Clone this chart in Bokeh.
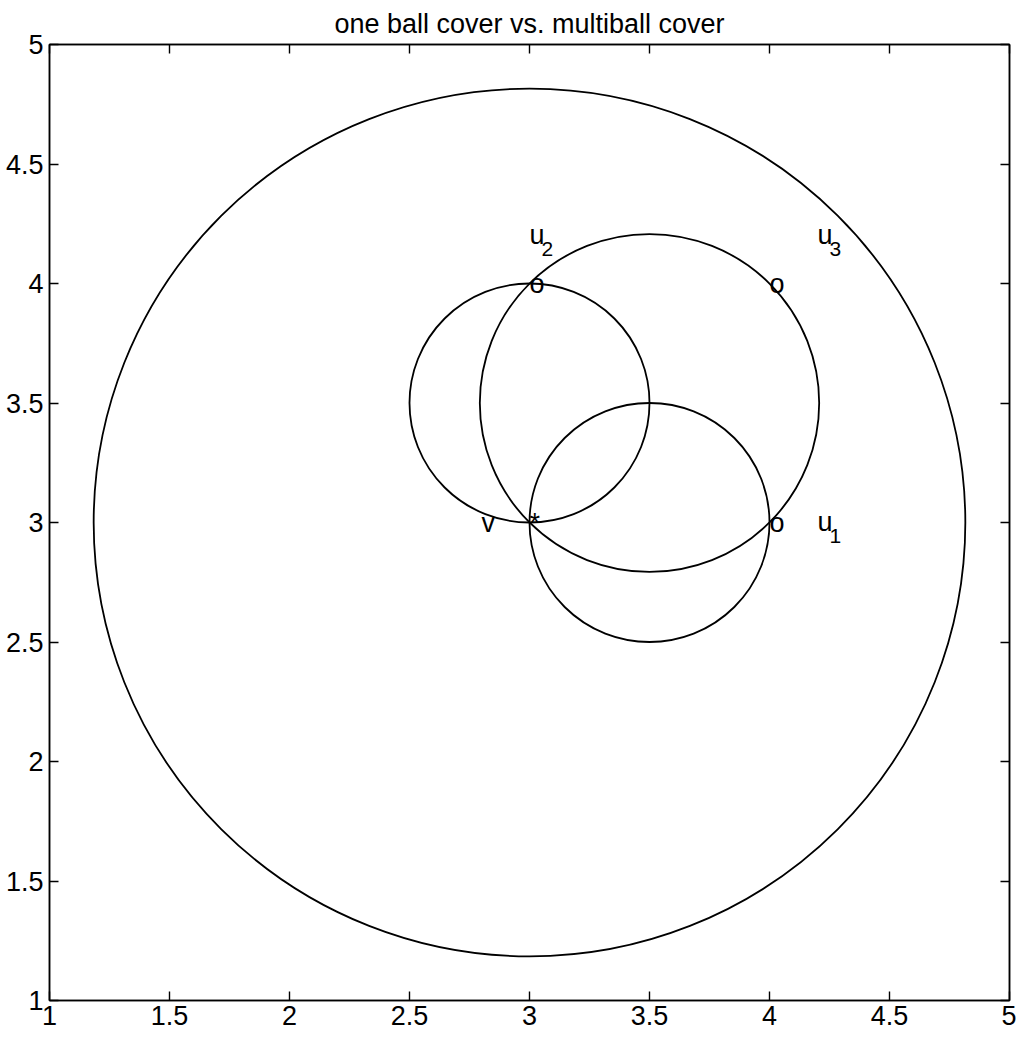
from bokeh.plotting import figure
from bokeh.models import LinearAxis, FixedTicker, Range1d
from bokeh.core.properties import value
from bokeh.embed import file_html
from bokeh.resources import INLINE

# balls: the big one around v, then the three small ones
ball_x = [3.0, 3.0, 3.5, 3.5]
ball_y = [3.0, 3.5, 3.0, 3.5]
ball_r = [1.816, 0.5, 0.5, 0.707]

# "o" marks on the u points, "*" on v
o_x = [3.0, 4.0, 4.0]
o_y = [4.0, 3.0, 4.0]
star_x = [3.0]
star_y = [3.0]

# point names
v_x = [2.8]
v_y = [3.0]
u_x = [4.2, 3.0, 4.2]
u_y = [3.0, 4.2, 4.2]
u_sub = ["1", "2", "3"]

ticks = [1, 1.5, 2, 2.5, 3, 3.5, 4, 4.5, 5]
tick_labels = ["1", "1.5", "2", "2.5", "3", "3.5", "4", "4.5", "5"]

FONT = "Liberation Sans"
SIZE = "27px"

p = figure(width=1016, height=1033, x_range=Range1d(1, 5), y_range=Range1d(1, 5),
           title="one ball cover vs. multiball cover",
           output_backend="svg", toolbar_location=None,
           min_border_left=49, min_border_right=7, min_border_top=44, min_border_bottom=33)
p.title.text_font = FONT
p.title.text_font_size = SIZE
p.title.text_font_style = "normal"
p.title.text_color = "black"
p.title.align = "center"
p.title.standoff = 12
p.xgrid.visible = False
p.ygrid.visible = False
p.outline_line_color = "black"
p.outline_line_width = 1.5

# box ticks on top and right, no labels there
p.add_layout(LinearAxis(), "above")
p.add_layout(LinearAxis(), "right")
overrides = {t: s for t, s in zip(ticks, tick_labels)}
for ax in p.axis:
    ax.ticker = FixedTicker(ticks=ticks)
    ax.major_label_overrides = overrides
    ax.major_tick_in = 9
    ax.major_tick_out = 0
    ax.minor_tick_in = 0
    ax.minor_tick_out = 0
    ax.axis_line_color = "black"
    ax.axis_line_width = 1.5
    ax.major_tick_line_color = "black"
    ax.major_tick_line_width = 1.4
    ax.major_label_text_font = FONT
    ax.major_label_text_font_size = SIZE
    ax.major_label_text_color = "black"
for ax in p.above + p.right:
    if isinstance(ax, LinearAxis):
        ax.major_label_text_font_size = "1px"
        ax.major_label_text_color = None
        ax.major_label_standoff = 0
p.xaxis[0].major_label_text_font_size = "26px"
p.xaxis[0].major_label_standoff = 2
p.yaxis[0].major_label_standoff = 6

p.ellipse(x=ball_x, y=ball_y, width=[2 * r for r in ball_r], height=[2 * r for r in ball_r],
          fill_color=None, line_color="black", line_width=1.8)

p.text(x=o_x, y=o_y, text=["o"] * len(o_x), text_align="left", text_baseline="middle",
       text_font=value(FONT), text_font_size=SIZE, text_color="black")
p.text(x=star_x, y=star_y, text=["*"], text_align="left", text_baseline="middle",
       text_font=value(FONT), text_font_size=SIZE, text_color="black")
p.text(x=v_x, y=v_y, text=["v"], text_align="left", text_baseline="middle",
       text_font=value(FONT), text_font_size=SIZE, text_color="black")
p.text(x=u_x, y=u_y, text=["u"] * len(u_x), text_align="left", text_baseline="alphabetic",
       y_offset=-1, text_font=value(FONT), text_font_size=SIZE, text_color="black")
p.text(x=u_x, y=u_y, text=u_sub, text_align="left", text_baseline="alphabetic",
       x_offset=12, y_offset=13, text_font=value(FONT), text_font_size="21px", text_color="black")

open("out.html", "w").write(file_html(p, INLINE))
